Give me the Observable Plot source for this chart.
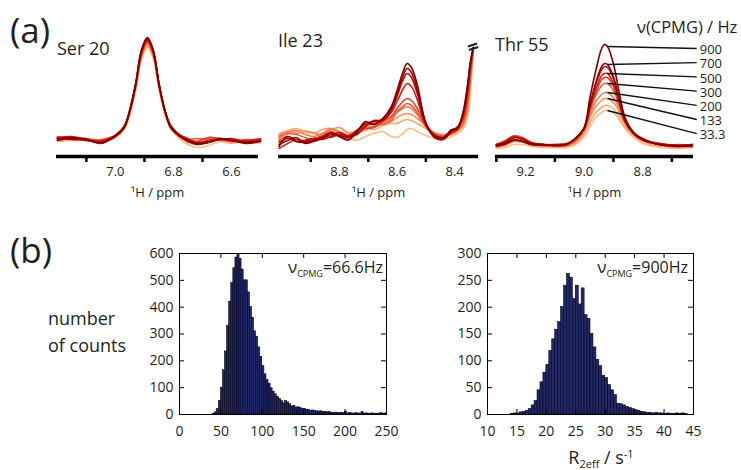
<!DOCTYPE html>
<html><head><meta charset="utf-8">
<script src="https://cdn.jsdelivr.net/npm/d3@7"></script>
<script src="https://cdn.jsdelivr.net/npm/@observablehq/plot@0.6"></script>
<style>
html,body{margin:0;padding:0;background:#fff;}
#fig{position:relative;width:741px;height:470px;overflow:hidden;font-family:"Open Sans",sans-serif;color:#231f20;}
#fig .p{position:absolute;}
#fig svg{overflow:visible;}
</style></head><body><div id="fig"></div>
<script>
// ---------- data ----------
const nuCPMG = [33.3, 66.6, 133, 200, 300, 400, 500, 600, 700, 900];
const legendNu = [900, 700, 500, 300, 200, 133, 33.3];

// Ser 20 spectra (intensity, a.u.) per CPMG frequency
const serPPM = [7.20, 7.15, 7.10, 7.05, 7.00, 6.97, 6.95, 6.93, 6.91, 6.89, 6.87, 6.85, 6.83, 6.81, 6.78, 6.75, 6.72, 6.68, 6.64, 6.60, 6.55, 6.50];
const serI = [
  [15,16,16,15,19,27,42,67,97,109,98,68,43,28,18,12,9,11,15,13,16,13],
  [17,18,17,16,20,28,43,68,99,111,100,69,44,29,20,14,12,14,17,15,15,15],
  [19,17,18,15,20,28,44,69,100,112,101,70,45,30,20,15,13,16,18,14,16,17],
  [18,19,16,17,21,29,45,70,101,113,102,71,45,30,21,17,15,18,16,16,14,18],
  [20,18,17,16,21,29,45,71,102,114,103,72,46,31,21,17,18,17,17,15,17,16],
  [17,19,18,15,20,29,46,71,103,115,104,72,46,30,20,16,15,19,18,17,15,17],
  [19,20,17,16,21,30,46,72,104,116,105,73,46,31,22,18,14,16,18,16,16,18],
  [18,17,16,14,20,29,46,72,105,117,105,72,46,30,21,15,13,15,17,18,15,16],
  [16,18,17,13,21,30,47,73,106,118,106,73,47,31,21,16,12,14,17,16,13,15],
  [18,19,17,14,21,29,47,73,107,119,107,73,47,29,21,16,13,14,18,16,14,16]
];

// Ile 23 spectra
const ilePPM = [9.01, 8.98, 8.95, 8.92, 8.89, 8.86, 8.83, 8.80, 8.77, 8.74, 8.71, 8.68, 8.65, 8.62, 8.60, 8.58, 8.565, 8.55, 8.53, 8.50, 8.47, 8.44, 8.41, 8.39, 8.37, 8.355, 8.345, 8.335];
const ileI = [
  [19,22,25,26,23,21,26,25,19,16,20,23,25,20,19,23,27,28,25,21,18,17,20,23,28,40,64,109],
  [23,26,28,25,23,27,28,25,22,26,29,27,31,33,33,36,37,36,33,28,22,21,22,25,30,44,70,109],
  [21,25,23,25,24,22,27,29,24,25,26,31,34,35,39,42,43,42,38,31,24,22,23,26,32,48,76,109],
  [18,24,26,22,20,23,28,24,21,22,29,30,33,38,44,48,50,48,42,30,23,21,23,26,33,52,80,109],
  [20,23,22,19,17,21,25,22,20,26,31,33,32,36,45,50,53,51,44,30,22,20,23,27,35,55,82,109],
  [16,20,17,16,18,20,23,20,16,24,28,29,35,40,48,55,58,56,48,32,22,20,25,30,38,58,85,109],
  [8,13,17,15,17,20,19,22,21,25,31,33,36,44,55,67,73,70,57,31,21,18,24,27,40,64,90,109],
  [14,18,15,16,18,17,20,24,20,22,30,36,36,46,60,76,83,79,63,32,20,18,25,28,42,66,92,109],
  [12,16,19,13,15,18,22,21,19,26,33,35,37,48,63,80,88,84,67,33,19,17,26,29,44,70,94,109],
  [10,20,15,14,16,19,24,20,17,24,35,32,38,50,66,84,93,89,72,34,21,19,27,28,45,72,95,109]
];

// Thr 55 spectra
const thrPPM = [9.30, 9.27, 9.24, 9.21, 9.18, 9.14, 9.10, 9.06, 9.03, 9.00, 8.98, 8.96, 8.94, 8.93, 8.92, 8.90, 8.88, 8.86, 8.83, 8.80, 8.76, 8.72, 8.68, 8.63];
const thrI = [
  [8,9,12,12,10,9,9,9,12,20,30,39,44,46,46,44,37,28,19,13,10,9,8,9],
  [9,11,15,14,11,10,10,10,13,22,34,44,49,51,51,48,40,30,20,15,11,10,9,10],
  [11,14,20,17,13,12,11,11,15,25,39,50,56,58,58,54,45,33,22,16,13,12,11,11],
  [10,13,19,18,13,11,10,11,15,26,42,55,62,64,64,59,48,34,22,16,13,11,10,10],
  [12,16,21,19,14,12,11,11,16,27,46,61,71,73,73,66,52,35,23,17,14,12,11,12],
  [11,14,19,18,13,12,12,12,17,27,47,64,77,79,79,70,53,34,22,16,13,11,12,11],
  [12,15,20,18,14,12,11,12,17,28,49,67,81,83,83,73,55,35,23,17,14,12,11,12],
  [10,12,16,15,12,11,12,13,18,28,51,72,87,90,89,78,56,36,23,17,13,12,11,10],
  [12,14,19,17,13,12,11,12,18,28,52,74,90,93,92,80,57,36,23,17,13,11,11,12],
  [11,13,17,15,12,12,11,12,18,29,59,86,108,112,110,93,64,39,24,18,13,11,10,11]
];

// Histograms of R2eff
const h1Start = 40, h1Width = 2.5;   // nu_CPMG = 66.6 Hz
const h1Counts = [2,8,20,50,100,165,235,330,420,490,545,585,595,580,540,500,500,455,400,360,310,290,250,215,180,150,128,115,98,85,75,65,58,50,42,50,45,38,30,32,26,27,24,20,21,18,17,14,15,13,12,11,12,9,10,8,9,7,6,7,6,5,6,5,10,4,5,4,3,5,3,4,9,3,4,3,3,4,2,3,3,5,3,4];
const h2Start = 14, h2Width = 0.5;   // nu_CPMG = 900 Hz
const h2Counts = [1,2,2,4,5,7,10,17,25,45,60,78,92,118,140,158,172,200,240,262,255,215,240,205,235,185,178,150,125,102,90,72,68,55,45,36,20,19,17,14,12,10,8,7,5,4,3,3,2,3,2,2,1,2,1,1,2,1,2,1];
const h1XTicks = [0, 50, 100, 150, 200, 250];
const h1YTicks = [0, 100, 200, 300, 400, 500, 600];
const h2XTicks = [10, 15, 20, 25, 30, 35, 40, 45];
const h2YTicks = [0, 50, 100, 150, 200, 250, 300];

// ---------- drawing ----------
const fig = document.getElementById("fig");
const FONT = "Open Sans";
const INK = "#231f20";

function place(el, left, top) {
  const d = document.createElement("div");
  d.className = "p"; d.style.left = left + "px"; d.style.top = top + "px";
  d.appendChild(el); fig.appendChild(d);
}

function spectrum({grid, curves, domain, width, marginRight = 0, extra = []}) {
  const rows = curves.flatMap((c, i) => c.map((v, j) => ({ppm: grid[j], I: v, k: i})));
  const lo = Math.min(...domain), hi = Math.max(...domain);
  const tenths = d3.range(Math.ceil(lo * 10 - 1e-6), Math.floor(hi * 10 + 1e-6) + 1).map(t => t / 10);
  const odd = tenths.filter(t => Math.round(t * 10) % 2 !== 0);
  const even = tenths.filter(t => Math.round(t * 10) % 2 === 0 && t > lo + 0.05 && t < hi - 0.05);
  return Plot.plot({
    width: width + marginRight, height: 200,
    marginLeft: 0, marginRight, marginTop: 0, marginBottom: 44,
    style: {fontFamily: FONT, color: INK, background: "transparent", overflow: "visible"},
    x: {domain, label: null},
    y: {domain: [0, 156], axis: null, label: null},
    color: {type: "linear", domain: [-5, 9], scheme: "OrRd"},
    marks: [
      Plot.line(rows, {x: "ppm", y: "I", z: "k", stroke: "k", strokeWidth: 1.6, curve: "catmull-rom"}),
      Plot.ruleY([0], {stroke: "#000", strokeWidth: 3.5}),
      Plot.axisX({ticks: odd, tickSize: 6, strokeWidth: 2.5, stroke: "#000", tickFormat: () => "", label: null}),
      Plot.axisX({ticks: even, tickSize: 0, tickPadding: 10, tickFormat: d3.format(".1f"), fontSize: 13, fill: INK, label: null}),
      Plot.text(["\u00b9H / ppm"], {text: d => d, frameAnchor: "bottom", dy: 40, fontSize: 13, fill: INK}),
      ...extra
    ]
  });
}

// Ser 20
place(spectrum({grid: serPPM, curves: serI, domain: [7.203, 6.507], width: 202}), 56, 0);

// Ile 23 (with axis break mark at the clipped neighbouring peak)
const ileTop = ileI.map(c => c[c.length - 1]);
place(spectrum({grid: ilePPM, curves: ileI, domain: [9.012, 8.317], width: 200,
  extra: [Plot.text(["="], {x: () => ilePPM[ilePPM.length - 1], y: () => d3.max(ileTop), text: d => d,
    rotate: -18, fontSize: 20, fontWeight: "bold", fill: "#222"})]}), 278, 0);

// Thr 55 with the CPMG-frequency annotation
const thrLabelX = 8.615;
const thrLegend = legendNu.map((n, k) => {
  const i = nuCPMG.indexOf(n);
  return {label: String(n), k, x1: thrPPM[14], y1: thrI[i][14]};
});
place(spectrum({grid: thrPPM, curves: thrI, domain: [9.303, 8.626], width: 198, marginRight: 48,
  extra: [
    Plot.link(thrLegend, {x1: "x1", y1: "y1", x2: () => thrLabelX, y2: d => 108 - d.k * 14.2, stroke: "#111", strokeWidth: 1.3}),
    Plot.text(thrLegend, {x: () => thrLabelX, y: d => 106.5 - d.k * 14.2, text: "label", textAnchor: "start", dx: 3, fontSize: 13, fill: INK})
  ]}), 495, 0);

function hist({start, w, counts, xDomain, yDomain, xTicks, yTicks, marginLeft, frameW, marginRight}) {
  const rows = counts.map((c, i) => ({x1: start + i * w, x2: start + (i + 1) * w, y: c}));
  const frameH = 161, t = 5;
  return Plot.plot({
    width: marginLeft + frameW + marginRight, height: 215,
    marginLeft, marginRight, marginTop: 13, marginBottom: 41,
    style: {fontFamily: FONT, color: INK, background: "transparent", overflow: "visible"},
    x: {domain: xDomain, label: null},
    y: {domain: yDomain, label: null},
    marks: [
      Plot.rectY(rows, {x1: "x1", x2: "x2", y: "y", fill: "#202868", stroke: "#05051a", strokeWidth: 0.6, inset: 0}),
      Plot.frame({stroke: "#000", strokeWidth: 1}),
      Plot.tickX(xTicks, {x: d => d, insetTop: frameH - t, stroke: "#000"}),
      Plot.tickX(xTicks, {x: d => d, insetBottom: frameH - t, stroke: "#000"}),
      Plot.tickY(yTicks, {y: d => d, insetRight: frameW - t, stroke: "#000"}),
      Plot.tickY(yTicks, {y: d => d, insetLeft: frameW - t, stroke: "#000"}),
      Plot.axisX({ticks: xTicks, tickSize: 0, tickPadding: 12, fontSize: 14, fill: INK, label: null}),
      Plot.axisY({ticks: yTicks, tickSize: 0, tickPadding: 6, fontSize: 14, fill: INK, label: null})
    ]
  });
}

place(hist({start: h1Start, w: h1Width, counts: h1Counts, xDomain: [0, 250], yDomain: [0, 600],
  xTicks: h1XTicks, yTicks: h1YTicks, marginLeft: 49, frameW: 207, marginRight: 14}), 130, 240);
place(hist({start: h2Start, w: h2Width, counts: h2Counts, xDomain: [10, 45], yDomain: [0, 300],
  xTicks: h2XTicks, yTicks: h2YTicks, marginLeft: 47, frameW: 206, marginRight: 18}), 440, 240);

// ---------- annotation text overlay ----------
const ov = d3.select(fig).append("svg")
  .attr("width", 741).attr("height", 470)
  .style("position", "absolute").style("left", "0px").style("top", "0px")
  .attr("font-family", FONT).attr("fill", INK);

function label(x, y, size, str, anchor = "start") {
  return ov.append("text").attr("x", x).attr("y", y).attr("font-size", size).attr("text-anchor", anchor).text(str);
}
label(10, 43, 35, "(a)");
label(10, 263, 35, "(b)");
label(57, 55, 18, "Ser 20");
label(278, 47, 18, "Ile 23");
label(495, 51, 18, "Thr 55");
label(637, 33, 16.5, "\u03bd(CPMG) / Hz");
label(48, 325, 18, "number");
label(48, 352, 18, "of counts");

function nuLabel(xEnd, y, value) {
  const t = ov.append("text").attr("x", xEnd).attr("y", y).attr("text-anchor", "end");
  t.append("tspan").attr("font-size", 17).text("\u03bd");
  t.append("tspan").attr("font-size", 9).attr("dy", 4).text("CPMG");
  t.append("tspan").attr("font-size", 16).attr("dy", -4).text("=" + value + "Hz");
}
nuLabel(383, 273, "66.6");
nuLabel(688, 273, "900");

const r = ov.append("text").attr("x", 601).attr("y", 464).attr("text-anchor", "middle");
r.append("tspan").attr("font-size", 18).text("R");
r.append("tspan").attr("font-size", 11).attr("dy", 4).text("2eff");
r.append("tspan").attr("font-size", 18).attr("dy", -4).text(" / s");
r.append("tspan").attr("font-size", 11).attr("dy", -6).text("-1");
</script></body></html>
